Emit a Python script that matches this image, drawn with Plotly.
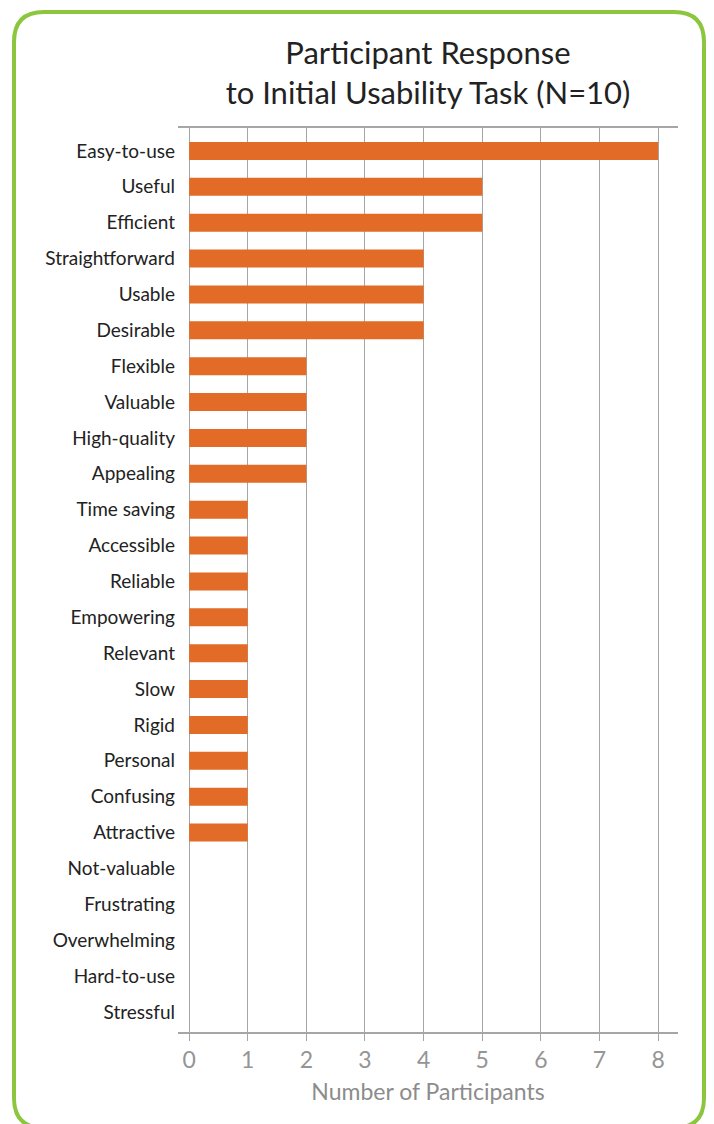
import plotly.graph_objects as go

categories = ["Easy-to-use", "Useful", "Efficient", "Straightforward", "Usable",
              "Desirable", "Flexible", "Valuable", "High-quality", "Appealing",
              "Time saving", "Accessible", "Reliable", "Empowering", "Relevant",
              "Slow", "Rigid", "Personal", "Confusing", "Attractive",
              "Not-valuable", "Frustrating", "Overwhelming", "Hard-to-use", "Stressful"]
participants = [8, 5, 5, 4, 4, 4, 2, 2, 2, 2, 1, 1, 1, 1, 1, 1, 1, 1, 1, 1, 0, 0, 0, 0, 0]
x_ticks = [0, 1, 2, 3, 4, 5, 6, 7, 8]

W, H = 714, 1124
L, R, T, B = 178, 36, 128, 92
pw, ph = W - L - R, H - T - B

def px(x):
    return (x - L) / pw

def py(y):
    return (H - B - y) / ph

fig = go.Figure(go.Bar(
    x=participants, y=categories, orientation="h",
    marker=dict(color="#E26B27", line=dict(width=0)),
    hoverinfo="x+y",
))

# rounded green frame
x0, x1, y0, y1, r = 14, 704, 12, 1128, 30
path = (f"M {px(x0 + r)},{py(y0)} L {px(x1 - r)},{py(y0)} "
        f"Q {px(x1)},{py(y0)} {px(x1)},{py(y0 + r)} "
        f"L {px(x1)},{py(y1 - r)} Q {px(x1)},{py(y1)} {px(x1 - r)},{py(y1)} "
        f"L {px(x0 + r)},{py(y1)} Q {px(x0)},{py(y1)} {px(x0)},{py(y1 - r)} "
        f"L {px(x0)},{py(y0 + r)} Q {px(x0)},{py(y0)} {px(x0 + r)},{py(y0)} Z")

fig.update_layout(
    width=W, height=H,
    margin=dict(l=L, r=R, t=T, b=B),
    paper_bgcolor="white", plot_bgcolor="white",
    bargap=0.5,
    showlegend=False,
    font=dict(family="Lato, 'Noto Sans', sans-serif", color="#222222"),
    title=dict(
        text="Participant Response<br>to Initial Usability Task (N=10)",
        x=0.5, xref="paper", xanchor="center",
        y=1 - 64 / H, yref="container", yanchor="top",
        font=dict(size=31, color="#222222"),
    ),
    xaxis=dict(
        range=[-0.19, 8.34],
        tickvals=x_ticks, ticktext=[str(v) for v in x_ticks],
        showgrid=True, gridcolor="#A6A6A6", gridwidth=1.3,
        zeroline=False,
        showline=True, linecolor="#A6A6A6", linewidth=1.5, mirror=True,
        ticks="outside", ticklen=7, tickcolor="#A6A6A6", tickwidth=1.3,
        tickfont=dict(size=23, color="#959595"),
        title=dict(text="Number of Participants", standoff=12,
                   font=dict(size=23, color="#8C8C8C")),
    ),
    yaxis=dict(
        categoryorder="array", categoryarray=categories,
        range=[24.56, -0.64],
        showgrid=False, zeroline=False, showline=False,
        ticks="", ticklabelstandoff=2,
        tickfont=dict(size=19, color="#222222"),
    ),
    shapes=[dict(type="path", path=path, xref="paper", yref="paper",
                 line=dict(color="#8CC63F", width=4), layer="below")],
)

fig.write_html("out.html", config={"displayModeBar": False},
               post_script="document.body.style.margin='0';document.body.style.padding='0';")
